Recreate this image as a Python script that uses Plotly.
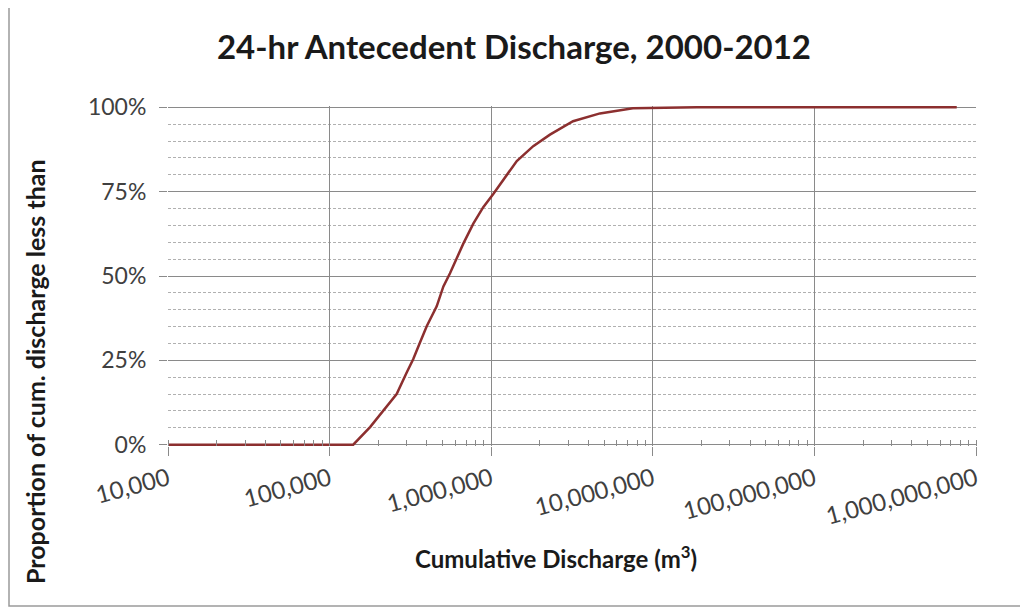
import plotly.graph_objects as go

# cumulative discharge (m3) and proportion below it
discharge = [10000, 140000, 178000, 215000, 260000, 300000, 329000, 362000,
             399000, 460000, 506000, 556000, 672000, 775000, 893000,
             1030000, 1440000, 1820000, 2310000, 3210000, 4710000,
             7530000, 18700000, 760000000]
proportion = [0, 0, 0.052, 0.101, 0.15, 0.214, 0.253, 0.302, 0.351, 0.41,
              0.469, 0.508, 0.596, 0.655, 0.704, 0.743, 0.841, 0.885,
              0.919, 0.959, 0.982, 0.997, 1.0, 1.0]

x_ticks = [1e4, 1e5, 1e6, 1e7, 1e8, 1e9]
y_ticks = [0, 0.25, 0.5, 0.75, 1.0]

FONT = "Lato, 'Open Sans', sans-serif"
GRID = "#8a8a8a"

# the page has an 8px body margin, so the figure is shifted by 8px
W, H = 1020, 604
L, T, B = 160, 98, 166
PW, PH = 808, 340
YPAD = 0.004  # tiny headroom so the flat 0% / 100% runs are not clipped

fig = go.Figure()
fig.add_trace(go.Scatter(
    x=discharge, y=proportion, mode="lines",
    line=dict(color="#8c2f2f", width=2.5),
    showlegend=False, hoverinfo="x+y",
))

fig.update_layout(
    width=W, height=H,
    margin=dict(l=L, r=W - L - PW, t=T, b=B),
    paper_bgcolor="white", plot_bgcolor="white",
    font=dict(family=FONT, color="#404040"),
    title=dict(text="<b>24-hr Antecedent Discharge, 2000-2012</b>",
               x=506 / W, xanchor="center", y=1 - 39 / H, yanchor="middle",
               font=dict(size=33, color="#1a1a1a", family=FONT)),
    xaxis=dict(
        type="log", range=[4, 9],
        tickvals=x_ticks, tickformat=",d", tickangle=-15,
        tickfont=dict(size=24, color="#404040"),
        ticks="outside", ticklen=9, tickcolor=GRID,
        showgrid=True, gridcolor=GRID, gridwidth=1,
        showline=False,
        minor=dict(ticks="inside", ticklen=6, tickcolor=GRID,
                   dtick="D1", showgrid=False),
        zeroline=False,
    ),
    yaxis=dict(
        range=[-YPAD, 1.0 + YPAD], tickvals=y_ticks, tickformat=".0%",
        tickfont=dict(size=23, color="#404040"),
        ticks="outside", ticklen=8, tickcolor=GRID, ticklabelstandoff=8,
        showgrid=True, gridcolor=GRID, gridwidth=1,
        showline=False,
        minor=dict(dtick=0.05, showgrid=True, gridcolor="#b0b0b0",
                   griddash="3px,2px", gridwidth=1, ticks=""),
        zeroline=False,
    ),
    annotations=[
        dict(text="<b>Cumulative Discharge (m<sup>3</sup>)</b>",
             xref="paper", yref="paper", x=(548 - L) / PW,
             y=-(549 - (T + PH)) / PH,
             xanchor="center", yanchor="middle", showarrow=False,
             font=dict(size=24, color="#1a1a1a", family=FONT)),
        dict(text="<b>Proportion of cum. discharge less than</b>",
             xref="paper", yref="paper", x=(27 - L) / PW,
             y=((T + PH) - 364) / PH,
             xanchor="center", yanchor="middle", textangle=-90,
             showarrow=False,
             font=dict(size=25, color="#1a1a1a", family=FONT)),
    ],
    shapes=[
        dict(type="rect", xref="paper", yref="paper",
             x0=(1 - L) / PW, x1=(1030 - L) / PW,
             y0=-(598 - (T + PH)) / PH, y1=1 + (T + 2) / PH,
             line=dict(color="#9a9a9a", width=1.5), layer="below"),
    ],
)

fig.write_html("out.html")
